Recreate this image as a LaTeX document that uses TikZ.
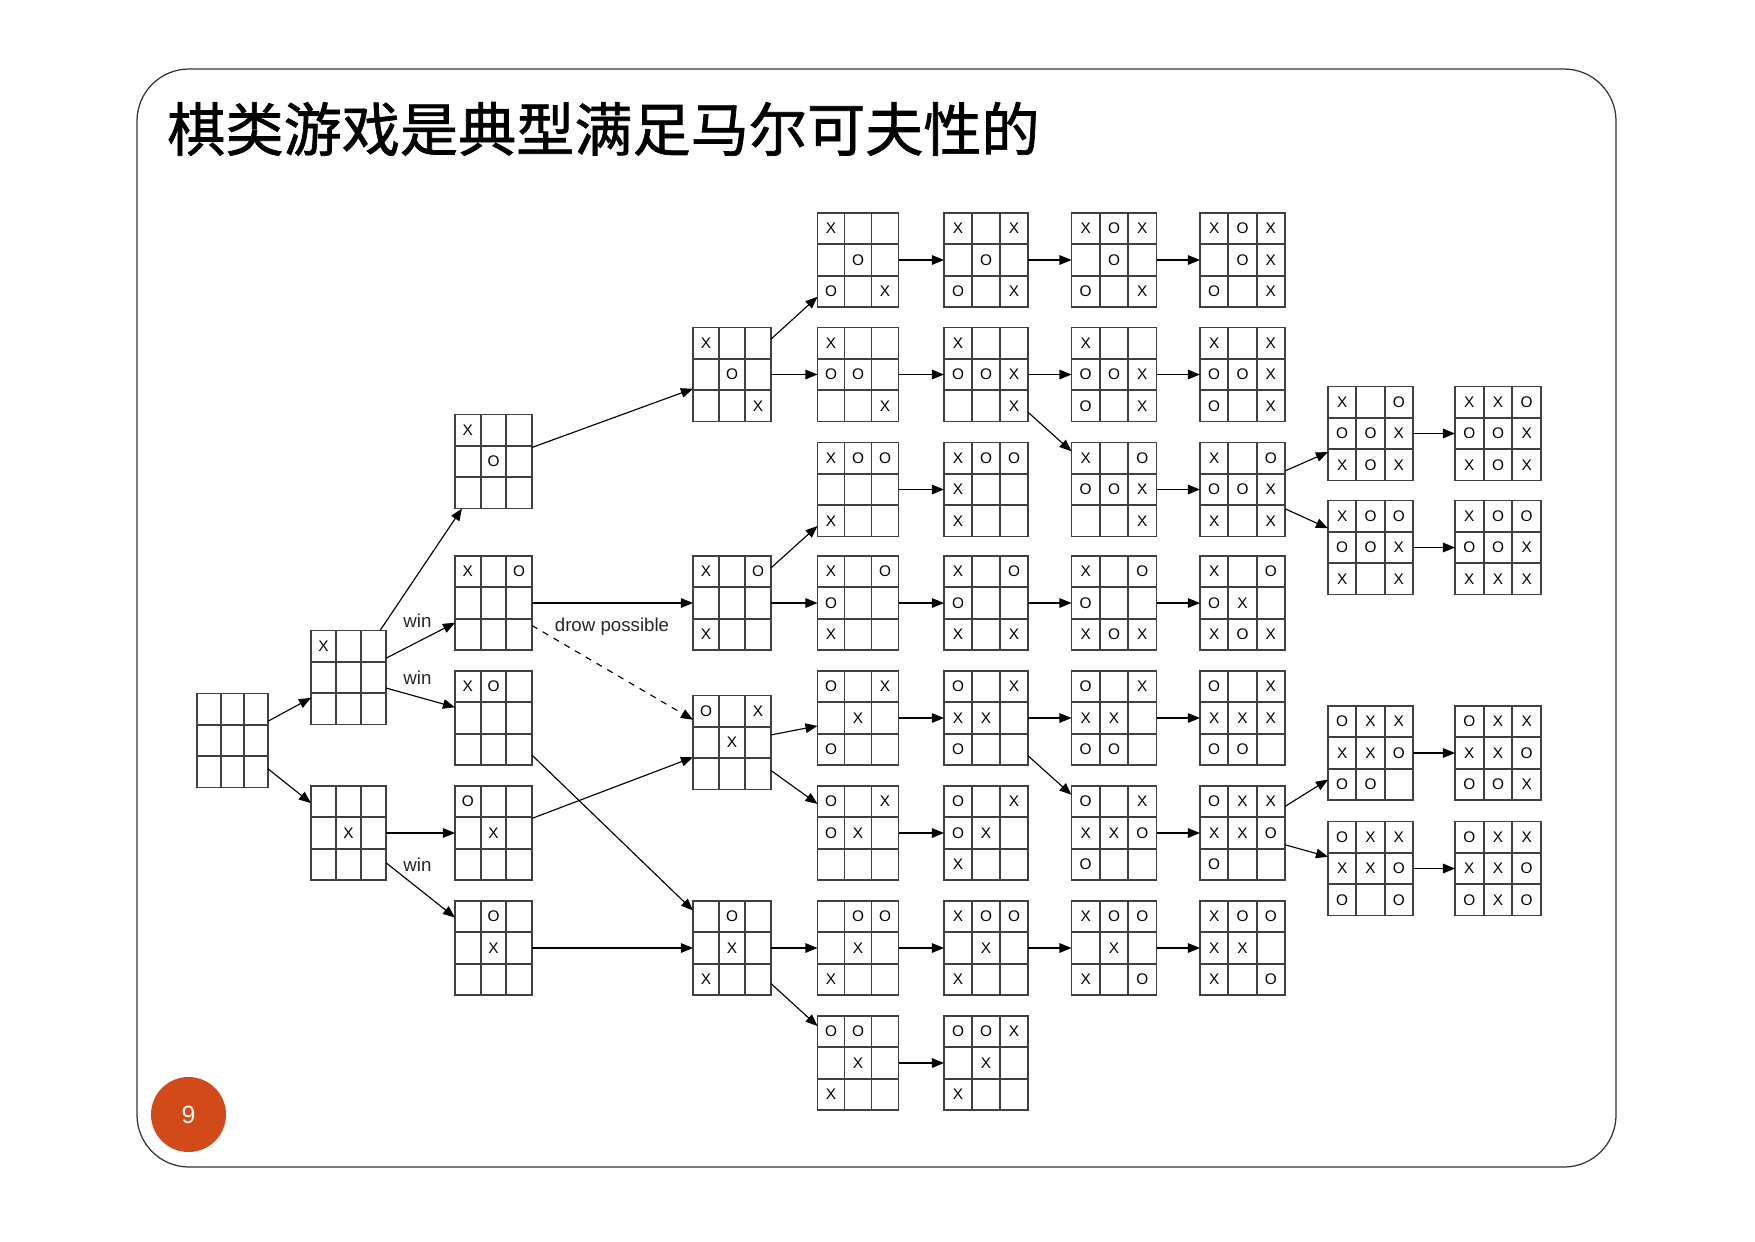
\documentclass[tikz,border=0pt]{standalone}
\usepackage{fontspec}
\setmainfont{Liberation Sans}
\newfontfamily\cjk{Noto Sans CJK SC}[FakeBold=1.2]
\usepackage{tikz}
\usetikzlibrary{calc,arrows.meta}
\definecolor{badgeorange}{RGB}{210,74,26}
\newcommand{\px}{0.01692cm}
\tikzset{
  board/.style={draw=black!75, line width=0.9pt, rectangle, inner sep=0pt, outer sep=0pt, minimum height=94*\px},
  cell line/.style={draw=black!75, line width=0.9pt},
  piece/.style={font=\fontsize{7.4}{8}\selectfont, inner sep=0pt},
  arr/.style={-{Triangle[length=5.8pt,width=4.6pt]}, line width=0.55pt},
  lbl/.style={font=\fontsize{9}{10}\selectfont, text=black!85, inner sep=1pt},
}
% board: name, centre, width, nine cells (- for empty)
\newcommand{\board}[4]{%
  \node[board, minimum width=#3*\px] (#1) at (#2) {};
  \foreach \f in {0.3333,0.6667} {
    \draw[cell line] ($(#1.north west)!\f!(#1.north east)$) -- ($(#1.south west)!\f!(#1.south east)$);
    \draw[cell line] ($(#1.north west)!\f!(#1.south west)$) -- ($(#1.north east)!\f!(#1.south east)$);
  }
  \foreach \c [count=\i from 0] in {#4} {
    \if\c-\else
      \pgfmathtruncatemacro\cx{mod(\i,3)}
      \pgfmathtruncatemacro\cy{\i/3}
      \node[piece] at ($(#1.north west)+({(\cx+0.5)*#3/3},{(\cy+0.5)*94/3})$) {\c};
    \fi
  }
}
\begin{document}
\begin{tikzpicture}[x=0.01692cm, y=-0.01692cm]
  \useasboundingbox (0,0) rectangle (1755,1241);
  \draw[black!80, line width=0.6pt, rounded corners=0.88cm] (137,69) rectangle (1616,1167);
  \node[anchor=west, font=\cjk\fontsize{28}{30}\selectfont] (title) at (160,129) {棋类游戏是典型满足马尔可夫性的};
  \node[circle, fill=badgeorange, minimum size=75*\px, inner sep=0pt, text=white, font=\fontsize{12}{13}\selectfont] (page) at (188.5,1114.5) {9};

  % level 0 - 2
  \board{b0}{232.5,740.5}{71}{-,-,-,-,-,-,-,-,-}
  \board{b1u}{348.5,677.5}{75}{X,-,-,-,-,-,-,-,-}
  \board{b1l}{348.5,833}{75}{-,-,-,-,X,-,-,-,-}
  \board{b2a}{493.5,461.5}{77}{X,-,-,-,O,-,-,-,-}
  \board{b2b}{493.5,603}{77}{X,-,O,-,-,-,-,-,-}
  \board{b2c}{493.5,718}{77}{X,O,-,-,-,-,-,-,-}
  \board{b2d}{493.5,833}{77}{O,-,-,-,X,-,-,-,-}
  \board{b2e}{493.5,948}{77}{-,O,-,-,X,-,-,-,-}

  % level 3 - 5
  \board{b3a}{732,374.5}{78}{X,-,-,-,O,-,-,-,X}
  \board{b3b}{732,603}{78}{X,-,O,-,-,-,X,-,-}
  \board{b3c}{732,742.5}{78}{O,-,X,-,X,-,-,-,-}
  \board{b3d}{732,948}{78}{-,O,-,-,X,-,X,-,-}
  \board{b4a}{858,260}{81}{X,-,-,-,O,-,O,-,X}
  \board{b4b}{858,374.5}{81}{X,-,-,O,O,-,-,-,X}
  \board{b4c}{858,489.5}{81}{X,O,O,-,-,-,X,-,-}
  \board{b4d}{858,603}{81}{X,-,O,O,-,-,X,-,-}
  \board{b4e}{858,718}{81}{O,-,X,-,X,-,O,-,-}
  \board{b4f}{858,833}{81}{O,-,X,O,X,-,-,-,-}
  \board{b4g}{858,948}{81}{-,O,O,-,X,-,X,-,-}
  \board{b4h}{858,1063}{81}{O,O,-,-,X,-,X,-,-}
  \board{b5a}{986,260}{84}{X,-,X,-,O,-,O,-,X}
  \board{b5b}{986,374.5}{84}{X,-,-,O,O,X,-,-,X}
  \board{b5c}{986,489.5}{84}{X,O,O,X,-,-,X,-,-}
  \board{b5d}{986,603}{84}{X,-,O,O,-,-,X,-,X}
  \board{b5e}{986,718}{84}{O,-,X,X,X,-,O,-,-}
  \board{b5f}{986,833}{84}{O,-,X,O,X,-,X,-,-}
  \board{b5g}{986,948}{84}{X,O,O,-,X,-,X,-,-}
  \board{b5h}{986,1063}{84}{O,O,X,-,X,-,X,-,-}

  % level 6 - 9
  \board{b6a}{1114,260}{85}{X,O,X,-,O,-,O,-,X}
  \board{b6b}{1114,374.5}{85}{X,-,-,O,O,X,O,-,X}
  \board{b6c}{1114,489.5}{85}{X,-,O,O,O,X,-,-,X}
  \board{b6d}{1114,603}{85}{X,-,O,O,-,-,X,O,X}
  \board{b6e}{1114,718}{85}{O,-,X,X,X,-,O,O,-}
  \board{b6f}{1114,833}{85}{O,-,X,X,X,O,O,-,-}
  \board{b6g}{1114,948}{85}{X,O,O,-,X,-,X,-,O}
  \board{b7a}{1242.5,260}{85}{X,O,X,-,O,X,O,-,X}
  \board{b7b}{1242.5,374.5}{85}{X,-,X,O,O,X,O,-,X}
  \board{b7c}{1242.5,489.5}{85}{X,-,O,O,O,X,X,-,X}
  \board{b7d}{1242.5,603}{85}{X,-,O,O,X,-,X,O,X}
  \board{b7e}{1242.5,718}{85}{O,-,X,X,X,X,O,O,-}
  \board{b7f}{1242.5,833}{85}{O,X,X,X,X,O,O,-,-}
  \board{b7g}{1242.5,948}{85}{X,O,O,X,X,-,X,-,O}
  \board{b8a}{1370.5,433.5}{85}{X,-,O,O,O,X,X,O,X}
  \board{b8b}{1370.5,547.5}{85}{X,O,O,O,O,X,X,-,X}
  \board{b8c}{1370.5,753}{85}{O,X,X,X,X,O,O,O,-}
  \board{b8d}{1370.5,868.5}{85}{O,X,X,X,X,O,O,-,O}
  \board{b9a}{1498,433.5}{86}{X,X,O,O,O,X,X,O,X}
  \board{b9b}{1498,547.5}{86}{X,O,O,O,O,X,X,X,X}
  \board{b9c}{1498,753}{86}{O,X,X,X,X,O,O,O,X}
  \board{b9d}{1498,868.5}{86}{O,X,X,X,X,O,O,X,O}

  % moves
  \foreach \a/\b in {b0/b1u, b0/b1l, b1u/b2a, b1u/b2b, b1u/b2c, b1l/b2d, b1l/b2e,
      b2a/b3a, b2b/b3b, b2c/b3d, b2d/b3c, b2e/b3d,
      b3a/b4a, b3a/b4b, b3b/b4c, b3b/b4d, b3c/b4e, b3c/b4f, b3d/b4g, b3d/b4h,
      b4a/b5a, b4b/b5b, b4c/b5c, b4d/b5d, b4e/b5e, b4f/b5f, b4g/b5g, b4h/b5h,
      b5a/b6a, b5b/b6b, b5b/b6c, b5d/b6d, b5e/b6e, b5e/b6f, b5g/b6g,
      b6a/b7a, b6b/b7b, b6c/b7c, b6d/b7d, b6e/b7e, b6f/b7f, b6g/b7g,
      b7c/b8a, b7c/b8b, b7f/b8c, b7f/b8d,
      b8a/b9a, b8b/b9b, b8c/b9c, b8d/b9d}
    \draw[arr] (\a) -- (\b);
  \draw[arr, dashed] (b2b) -- (b3c);

  \node[lbl] (win1) at (417.5,621) {win};
  \node[lbl] (win2) at (417.5,678) {win};
  \node[lbl] (win3) at (417.5,865) {win};
  \node[lbl] (drow) at (612,627) {drow possible};
\end{tikzpicture}
\end{document}
